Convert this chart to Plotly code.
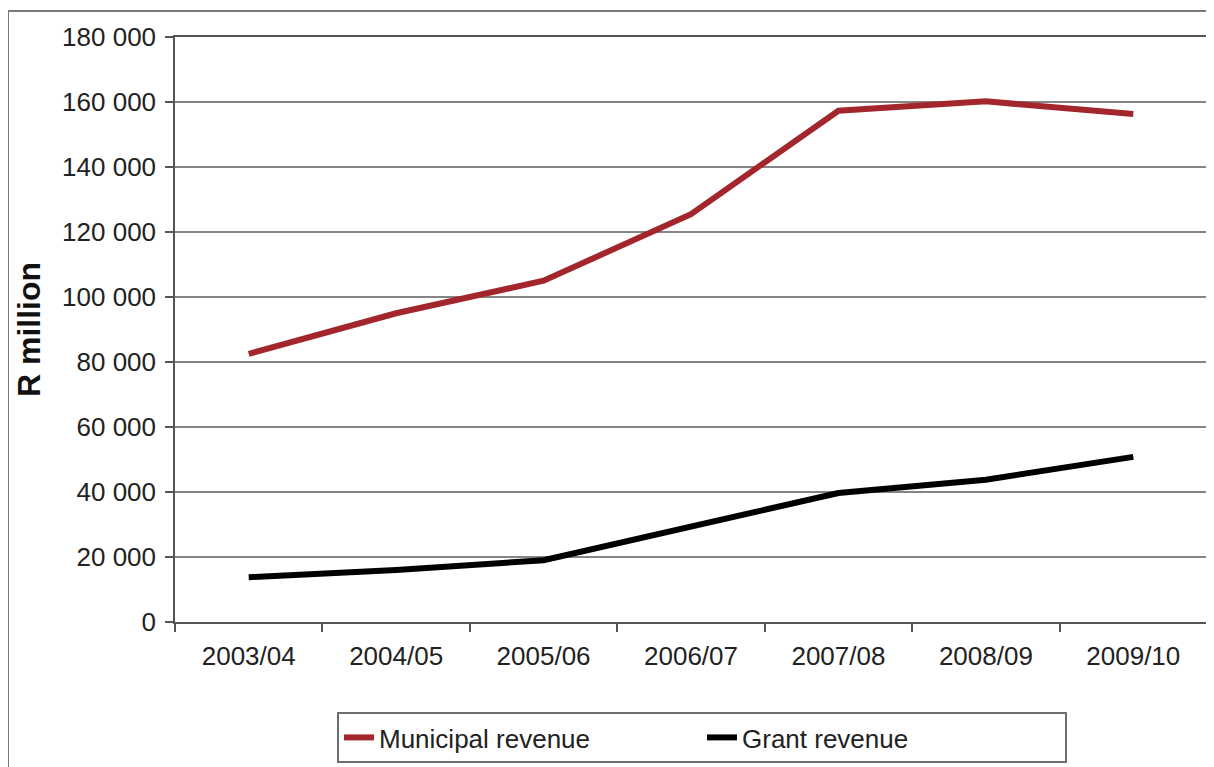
import plotly.graph_objects as go

years = ["2003/04", "2004/05", "2005/06", "2006/07", "2007/08", "2008/09", "2009/10"]
municipal_revenue = [82500, 95000, 105000, 125500, 157300, 160200, 156300]
grant_revenue = [13800, 16000, 19000, 29200, 39700, 43800, 50800]
y_ticks = [0, 20000, 40000, 60000, 80000, 100000, 120000, 140000, 160000, 180000]
y_tick_labels = ["0", "20 000", "40 000", "60 000", "80 000", "100 000", "120 000",
                 "140 000", "160 000", "180 000"]

W, H = 1214, 767
OFF = 8  # page body margin offset
ML, MR, MT, MB = 175 - OFF, 15, 37 - OFF, 153
pw, ph = W - ML - MR, H - MT - MB

def px_x(p):
    return (p - OFF - ML) / pw

def px_y(p):
    return (H - MB - (p - OFF)) / ph

FONT = "Liberation Sans, Arial, sans-serif"
GRID = "#858585"

fig = go.Figure()
fig.add_trace(go.Scatter(x=years, y=municipal_revenue, mode="lines", name="Municipal revenue",
                         line=dict(color="#A3262C", width=6)))
fig.add_trace(go.Scatter(x=years, y=grant_revenue, mode="lines", name="Grant revenue",
                         line=dict(color="#000000", width=6)))

fig.update_layout(
    width=W, height=H,
    margin=dict(l=ML, r=MR, t=MT, b=MB, autoexpand=False),
    paper_bgcolor="white", plot_bgcolor="white",
    font=dict(family=FONT, size=26, color="#222222"),
    showlegend=True,
    legend=dict(orientation="h", x=px_x(702), xanchor="center", y=px_y(712), yanchor="top",
                bordercolor="#6e6e6e", borderwidth=2, bgcolor="white",
                font=dict(family=FONT, size=26, color="#222222"),
                entrywidth=318, traceorder="normal"),
    xaxis=dict(showgrid=False, showline=True, linecolor="#555555", linewidth=1.5, mirror=True,
               ticks="outside", ticklen=8, tickcolor="#555555", tickwidth=1.5,
               tickson="boundaries", tickfont=dict(size=26, color="#222222"),
               ticklabelstandoff=10,
               range=[-0.5, 6.5], fixedrange=True, automargin=False),
    yaxis=dict(range=[0, 180000], tickvals=y_ticks, ticktext=y_tick_labels,
               showgrid=True, gridcolor=GRID, gridwidth=1.5,
               showline=True, linecolor="#555555", linewidth=1.5, mirror=True,
               ticks="outside", ticklen=8, tickcolor="#555555", tickwidth=1.5,
               tickfont=dict(size=26, color="#222222"), zeroline=False, automargin=False,
               ticklabelstandoff=4,
               title=dict(text="<b>R million</b>", font=dict(size=32, color="#111111"), standoff=12)),
)

# outer chart border (extends past the right and bottom edges of the picture)
fig.add_shape(type="rect", xref="paper", yref="paper",
              x0=px_x(8), x1=px_x(W + 30), y0=px_y(H + 30), y1=px_y(11),
              line=dict(color="#7a7a7a", width=2), fillcolor="rgba(0,0,0,0)", layer="below")

fig.write_html("out.html")
